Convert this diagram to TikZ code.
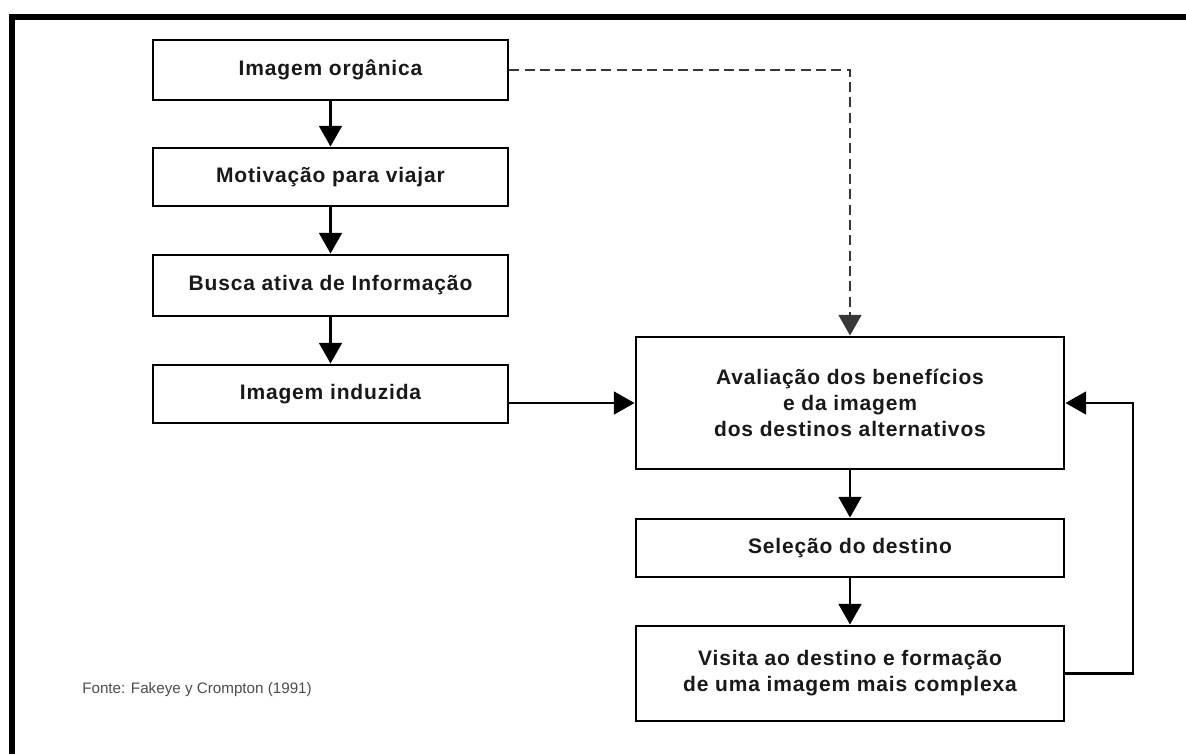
\documentclass[tikz,border=0pt]{standalone}
\usepackage{fontspec}
\setmainfont{Liberation Sans}
\newfontfamily\boxfont[LetterSpace=4]{Liberation Sans}
\usetikzlibrary{arrows.meta}
\tikzset{
  stepbox/.style={draw=black, line width=2.2pt, fill=white, inner sep=0pt, align=center,
    text=black!90, font=\boxfont\bfseries\fontsize{15.75pt}{19.5pt}\selectfont},
  arr/.style={draw=black, line width=2.1pt, -{Triangle[length=15.5pt,width=17pt]}},
  dasharr/.style={draw=black!78, line width=2pt, dash pattern=on 7.5pt off 4pt,
    -{Triangle[length=15.5pt,width=17pt]}},
  frame/.style={draw=black, line width=4.5pt, line join=miter},
  source/.style={anchor=west, inner sep=0pt, text=black!70, font=\fontsize{11.4pt}{13pt}\selectfont}
}
\begin{document}
\begin{tikzpicture}[x=0.75pt,y=-0.75pt]
\useasboundingbox (0,0) rectangle (1186,754);
\draw[frame] (12,754) -- (12,17) -- (1186,17);

\node[stepbox, minimum width=266.25pt, minimum height=45pt] (b1) at (330.5,70) {Imagem orgânica};
\node[stepbox, minimum width=266.25pt, minimum height=43.5pt] (b2) at (330.5,177) {Motivação para viajar};
\node[stepbox, minimum width=266.25pt, minimum height=45.75pt] (b3) at (330.5,285.5) {Busca ativa de Informação};
\node[stepbox, minimum width=266.25pt, minimum height=43.5pt] (b4) at (330.5,394) {Imagem induzida};

\node[stepbox, minimum width=321pt, minimum height=99pt] (big) at (850,403)
  {Avaliação dos benefícios\\e da imagem\\dos destinos alternativos};
\node[stepbox, minimum width=321pt, minimum height=43.5pt] (sel) at (850,548) {Seleção do destino};
\node[stepbox, minimum width=321pt, minimum height=71.25pt] (vis) at (850,673.5)
  {Visita ao destino e formação\\de uma imagem mais complexa};

\coordinate (fb) at (1133,673.5);

\draw[arr] (b1) -- (b2);
\draw[arr] (b2) -- (b3);
\draw[arr] (b3) -- (b4);
\draw[dasharr] (b1.east) -| (big.north);
\draw[arr] (big.west -| b4.east) -- (big.west);
\draw[arr] (big) -- (sel);
\draw[arr] (sel) -- (vis);
\draw[arr] (vis.east) -- (fb) |- (big.east);

\node[source] (src) at (82,690) {Fonte: Fakeye y Crompton (1991)};
\end{tikzpicture}
\end{document}
